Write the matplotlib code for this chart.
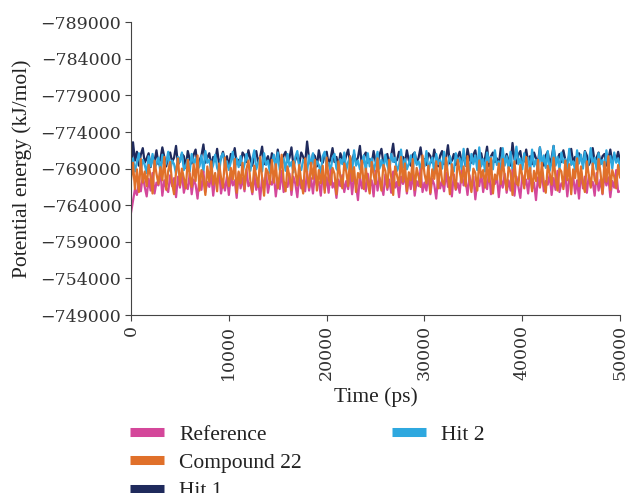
import numpy as np
import matplotlib
matplotlib.use("Agg")
import matplotlib.pyplot as plt
from matplotlib.lines import Line2D

# sampling times (ps)
time_ps = np.arange(0, 50001, 200)

hit1 = [
    -768600, -772600, -770100, -771300, -769400, -770900, -771800, -769800, -770400, -771100,
    -769200, -770700, -770000, -771500, -769600, -770300, -771900, -770600, -769300, -770800,
    -771200, -769900, -770500, -772100, -769500, -770200, -771000, -770700, -769100, -771400,
    -770300, -769700, -770900, -771600, -769400, -770100, -770800, -772300, -769800, -770500,
    -771100, -769300, -770600, -770000, -771700, -769600, -770400, -771300, -769900, -770700,
    -769200, -771000, -770500, -771800, -769700, -770200, -769500, -771200, -770800, -769900,
    -771500, -770300, -769400, -770900, -771400, -769800, -770600, -772000, -769600, -770100,
    -770700, -769300, -771100, -770400, -769700, -771600, -770000, -769500, -770800, -771300,
    -769900, -770500, -771900, -769400, -770200, -770900, -769600, -771200, -770600, -769800,
    -772700, -770300, -769500, -771000, -770700, -769300, -771500, -770100, -769800, -770900,
    -771300, -769600, -770400, -771800, -769900, -770600, -769200, -771100, -770300, -769700,
    -770800, -771600, -769500, -770200, -771000, -769900, -770500, -772100, -769400, -770700,
    -771200, -769800, -770300, -769600, -771400, -770000, -769300, -770900, -771700, -769700,
    -770400, -771000, -769500, -770800, -772400, -769900, -770200, -771300, -769600, -770600,
    -769800, -771500, -770100, -769400, -770900, -771200, -769700, -770500, -771900, -769900,
    -770300, -769500, -771100, -770700, -769800, -771600, -770200, -769300, -770800, -771400,
    -769600, -770400, -772200, -769700, -770100, -771000, -769500, -770600, -771300, -769900,
    -770800, -769400, -771700, -770300, -769800, -770900, -771500, -769600, -770200, -771100,
    -769700, -770500, -772000, -769300, -770700, -771200, -769900, -770400, -769500, -771800,
    -770600, -769800, -771000, -770100, -769400, -772500, -770300, -769700, -770900, -771400,
    -769500, -770200, -771600, -769900, -770700, -769600, -771200, -770400, -769800, -771900,
    -770000, -769400, -770800, -771300, -769700, -770500, -772100, -769600, -770300, -771000,
    -769900, -771500, -770200, -769500, -770900, -771700, -769800, -770600, -769300, -771100,
    -770400, -769700, -771400, -770800, -769500, -770100, -771800, -769900, -770500, -771200,
    -769600, -770700, -771000, -769400, -770300, -771600, -769800, -770900, -770200, -771300,
    -770000,
]

hit2 = [
    -769000, -770400, -768600, -769900, -771100, -768800, -770200, -769500, -768400, -770700,
    -769300, -771000, -768900, -769700, -770500, -768500, -770900, -769200, -769800, -771300,
    -768700, -770100, -769600, -768300, -770600, -769900, -771200, -768800, -769400, -770300,
    -768600, -771000, -769700, -770400, -768900, -769300, -770800, -768500, -771400, -769800,
    -770200, -768700, -769500, -770900, -769100, -768400, -770600, -771100, -769300, -770000,
    -768800, -769900, -771300, -768600, -770400, -769200, -770700, -768500, -769600, -771000,
    -769400, -768700, -770300, -771500, -768900, -769800, -770500, -768600, -771100, -769500,
    -770100, -768400, -769700, -770900, -769000, -771200, -768800, -769600, -770400, -768700,
    -771000, -769300, -769900, -768500, -770600, -771400, -769100, -768800, -770200, -769700,
    -768600, -770800, -769400, -771100, -768900, -770000, -769500, -768400, -770700, -771300,
    -769200, -769800, -768700, -770500, -771000, -769000, -768600, -770300, -769600, -771200,
    -768800, -769900, -770600, -768500, -771500, -769400, -770100, -768900, -769700, -770800,
    -768700, -771100, -769300, -770400, -768600, -769800, -771300, -769000, -770200, -768800,
    -770900, -769500, -768500, -771000, -769900, -770500, -768700, -769400, -771600, -769100,
    -770300, -768900, -769700, -770800, -768600, -771200, -769500, -770000, -768800, -770600,
    -769300, -771400, -768700, -769900, -770500, -768500, -771000, -769600, -770200, -769000,
    -771300, -768800, -769700, -770700, -769200, -768600, -771100, -769800, -770400, -768900,
    -771700, -769400, -770100, -768700, -771000, -769600, -770800, -768800, -771900, -769300,
    -770300, -768600, -771200, -769900, -770600, -768900, -771500, -769500, -770000, -768700,
    -771800, -769400, -770700, -769000, -771300, -768800, -769800, -772000, -769600, -770400,
    -768900, -771100, -769700, -770500, -768600, -771600, -769300, -770200, -768800, -771900,
    -769500, -770800, -769100, -771400, -768700, -769900, -772100, -769400, -770600, -768900,
    -771200, -769800, -770300, -768600, -771700, -769500, -770000, -768800, -771500, -769700,
    -770900, -769000, -771300, -768700, -769900, -771800, -769400, -770500, -768900, -771100,
    -769600, -770200, -768800, -771500, -769300, -770700, -769000, -771200, -769800, -770400,
    -769100,
]

reference = [
    -763000, -764600, -766200, -765400, -767300, -765900, -768000, -766500, -765200, -767600,
    -766000, -768400, -765600, -767100, -766700, -768800, -765300, -767400, -766300, -765800,
    -768100, -766600, -767700, -765100, -767900, -766400, -768500, -765700, -767000, -766200,
    -768300, -765500, -767500, -766800, -764900, -767800, -766100, -768600, -765800, -767200,
    -766500, -768200, -765300, -767600, -766900, -768700, -765600, -767300, -766000, -767900,
    -765400, -768000, -766700, -767400, -765000, -768400, -766300, -767700, -765900, -768900,
    -766600, -767100, -765500, -768200, -766100, -767500, -764800, -767800, -766400, -768500,
    -765700, -767300, -766800, -768100, -765200, -767600, -766200, -768700, -765800, -767000,
    -766500, -768300, -765400, -767900, -766900, -765100, -768000, -766300, -767400, -765900,
    -768600, -766000, -767700, -765600, -768200, -766700, -767200, -765300, -768400, -766100,
    -767800, -765700, -768800, -766400, -767100, -765000, -767500, -766600, -768100, -765800,
    -767300, -766200, -768500, -765500, -767900, -766800, -764700, -768000, -766300, -767600,
    -765900, -768300, -766500, -767400, -765200, -768700, -766000, -767800, -766700, -765400,
    -768200, -766100, -767500, -765700, -768600, -766400, -767200, -765100, -767900, -766900,
    -768100, -765600, -767700, -766200, -768400, -765300, -767300, -766600, -768900, -765800,
    -767100, -766000, -768300, -765500, -767600, -766800, -764900, -768000, -766300, -767400,
    -765900, -768500, -766500, -767800, -765200, -768200, -766100, -767000, -765700, -768700,
    -766700, -767500, -765400, -768100, -766300, -767900, -764800, -767300, -766600, -768400,
    -765800, -767700, -766200, -768600, -765500, -767200, -766900, -768000, -765100, -767600,
    -766400, -768300, -765700, -767400, -766000, -768800, -765300, -767900, -766500, -765000,
    -768100, -766700, -767500, -765600, -768400, -766200, -767100, -764700, -767800, -766400,
    -768500, -765900, -767300, -766800, -768200, -765400, -767700, -766100, -768700, -765800,
    -767000, -766500, -768300, -765200, -767600, -766900, -768000, -765600, -767400, -764900,
    -768600, -766300, -767900, -765700, -768100, -766600, -767200, -765300, -768400, -766000,
    -767500, -765500, -768200, -766700, -767800, -765100, -767300, -766400, -768800, -765800,
    -765900,
]

compound22 = [
    -767500, -769800, -766200, -768900, -765800, -770300, -767100, -768600, -766600, -769500,
    -767900, -765600, -770100, -768300, -766900, -769200, -767400, -770600, -766100, -768700,
    -769900, -767000, -765500, -768500, -770400, -766700, -769000, -767700, -766300, -770200,
    -768100, -766500, -769600, -767300, -770800, -766000, -768800, -767600, -765400, -769300,
    -767200, -770000, -766800, -768400, -765900, -769700, -767800, -766400, -770500, -768200,
    -766600, -769100, -767500, -770300, -765700, -768600, -767000, -769800, -766200, -768900,
    -770100, -767300, -765800, -769400, -768000, -766500, -770600, -767700, -765300, -769000,
    -768500, -766900, -770200, -767100, -769600, -766300, -768300, -770900, -767400, -765900,
    -769300, -767800, -766100, -770000, -768700, -766700, -769500, -767200, -765600, -770400,
    -768100, -766400, -769800, -767600, -770200, -766000, -768800, -767000, -769400, -765700,
    -770500, -767500, -766800, -769100, -768300, -765500, -770000, -767900, -766300, -769700,
    -768600, -766600, -770700, -767300, -769200, -765800, -768400, -767700, -770100, -766200,
    -769000, -767100, -765600, -769900, -768200, -766900, -770400, -767500, -766000, -769500,
    -768700, -766400, -770200, -767800, -765400, -769300, -768000, -766700, -770600, -767200,
    -769700, -765900, -768500, -767400, -770300, -766100, -769100, -767900, -766500, -770800,
    -768300, -767000, -769400, -765700, -768900, -767600, -770000, -766300, -769800, -767300,
    -766800, -770500, -768100, -765500, -769600, -767700, -766200, -770200, -768600, -767100,
    -769300, -766600, -770700, -767400, -765800, -769000, -768400, -766000, -770100, -767800,
    -768800, -766400, -769900, -767200, -770400, -765600, -768200, -767500, -769700, -766900,
    -770300, -767900, -766100, -769200, -768500, -765400, -770000, -767000, -766700, -769500,
    -768000, -766300, -770600, -767600, -769100, -765900, -768700, -767300, -770200, -766500,
    -769800, -767100, -765700, -769400, -768300, -766800, -770500, -767800, -766000, -769000,
    -768600, -766200, -770100, -767400, -769600, -765500, -768900, -767700, -770400, -766600,
    -769300, -767000, -765800, -770000, -768100, -766400, -769700, -767500, -766900, -770300,
    -768400, -765600, -769900, -767200, -770700, -766100, -768800, -767900, -766300, -769500,
    -767800,
]

labels = ["Reference", "Compound 22", "Hit 1", "Hit 2"]
colors = {"Reference": "#d4479a", "Compound 22": "#e0702a",
          "Hit 1": "#1f2a5c", "Hit 2": "#2ea8df"}
series = {"Reference": reference, "Compound 22": compound22,
          "Hit 1": hit1, "Hit 2": hit2}

y_ticks = np.arange(-789000, -748999, 5000)
x_ticks = np.arange(0, 50001, 10000)

plt.rcParams["font.family"] = ["Liberation Serif", "DejaVu Serif"]

fig = plt.figure(figsize=(6.27, 4.93), dpi=100)
ax = fig.add_axes([0.209, 0.361, 0.78, 0.594])

# draw order: navy, blue, pink, orange on top
for name in ["Hit 1", "Hit 2", "Reference", "Compound 22"]:
    ax.plot(time_ps, series[name], color=colors[name], lw=1.6)

ax.set_xlim(0, 50000)
ax.set_ylim(-749000, -789000)
ax.set_xticks(x_ticks)
ax.set_yticks(y_ticks)
tick_font = dict(family="DejaVu Serif", size=12.5, color="#333333")
ax.set_xticklabels([str(v) for v in x_ticks], rotation=90, **tick_font)
ax.set_yticklabels([f"\u2212{abs(v)}" for v in y_ticks], **tick_font)
ax.tick_params(direction="out", length=4, color="#444444", pad=3)
for s in ["top", "right"]:
    ax.spines[s].set_visible(False)
for s in ["left", "bottom"]:
    ax.spines[s].set_color("#444444")
ax.set_xlabel("Time (ps)", fontsize=15.5, labelpad=5, color="#222222")
ax.set_ylabel("Potential energy (kJ/mol)", fontsize=15.5, labelpad=6, color="#222222")


def handle(name):
    return Line2D([0], [0], color=colors[name], lw=6.5, solid_capstyle="butt")


kw = dict(frameon=False, fontsize=15.5, handlelength=1.6, handletextpad=0.7,
          labelspacing=0.38, borderaxespad=0, borderpad=0)
leg1 = fig.legend([handle(n) for n in labels[:3]], labels[:3],
                  loc="upper left", bbox_to_anchor=(0.207, 0.139), **kw)
leg2 = fig.legend([handle("Hit 2")], ["Hit 2"],
                  loc="upper left", bbox_to_anchor=(0.625, 0.139), **kw)
for leg in (leg1, leg2):
    for t in leg.get_texts():
        t.set_color("#222222")

fig.savefig("out.png", dpi=100)
